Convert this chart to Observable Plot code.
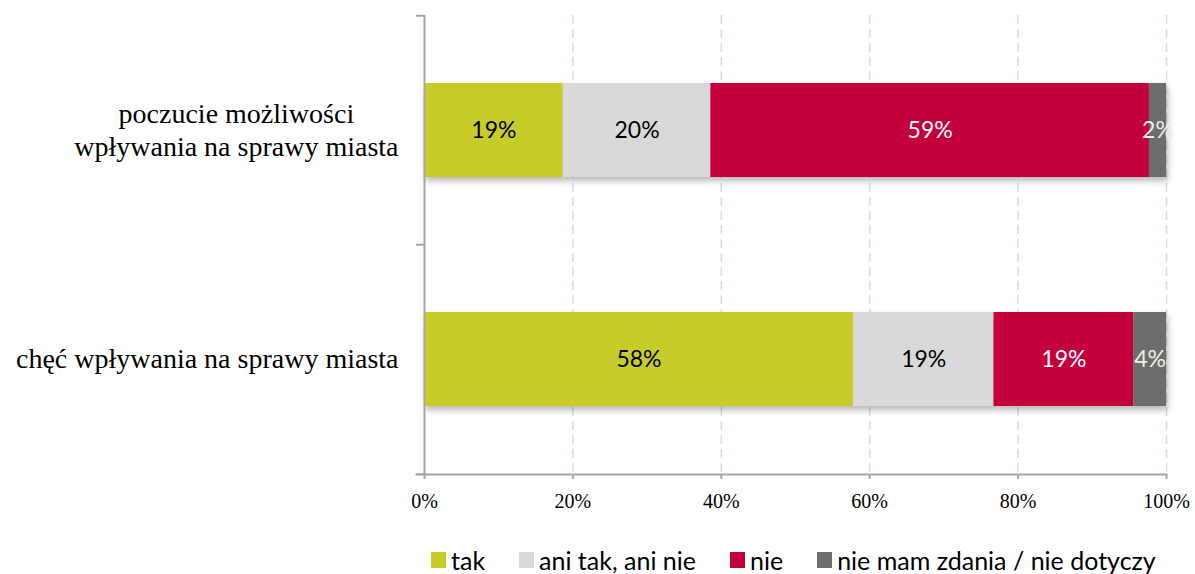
<!DOCTYPE html>
<html>
<head>
<meta charset="utf-8">
<script src="https://cdn.jsdelivr.net/npm/d3@7"></script>
<script src="https://cdn.jsdelivr.net/npm/@observablehq/plot@0.6"></script>
<style>
  body { margin: 0; background: #fff; overflow: hidden; }
  #chart svg { display: block; }
  #legend { display: flex; align-items: center; margin-left: 431px; margin-top: 15px; height: 30px; line-height: 30px;
    font-family: Lato, "Open Sans", sans-serif; font-size: 25px; color: #000; }
  .item { display: flex; align-items: center; margin-right: 34px; }
  .sw { width: 15px; height: 16px; margin-right: 5px; }
</style>
</head>
<body>
<div id="chart"></div>
<div id="legend"></div>
<script>
const categories = ["poczucie możliwości\nwpływania na sprawy miasta", "chęć wpływania na sprawy miasta"];
const series = ["tak", "ani tak, ani nie", "nie", "nie mam zdania / nie dotyczy"];
const seriesColors = ["#c8cc28", "#d9d9d9", "#c4003c", "#6d6d6d"];
const labelColors = ["#000000", "#000000", "#ffffff", "#f0efe4"];
const valuesRow1 = [18.7, 19.9, 59.1, 2.3];
const valuesRow2 = [57.7, 18.9, 18.8, 4.4];
const xTicks = [0, 0.2, 0.4, 0.6, 0.8, 1];

const rows = [valuesRow1, valuesRow2];
const data = [];
categories.forEach((c, i) => series.forEach((s, j) => data.push({category: c, series: s, value: rows[i][j], labelColor: labelColors[j]})));

const W = 1195, H = 530, mT = 15, mB = 56, mL = 424, mR = 29;
const step = (H - mT - mB) / categories.length;
const serif = "'Liberation Serif', serif";
const sans = "Lato, 'Open Sans', sans-serif";
const axisGray = "#a6a6a6";

const stackOpts = {x: "value", y: "category", z: "series", order: series, offset: "normalize"};
const fmt = d => d3.format(".0f")(d.value) + "%";
const distinctLabelColors = Array.from(new Set(labelColors));

const plot = Plot.plot({
  width: W, height: H,
  marginTop: mT, marginBottom: mB, marginLeft: mL, marginRight: mR,
  x: {domain: [0, 1], axis: null},
  y: {domain: categories, paddingInner: 0.59, paddingOuter: 0.295, axis: null},
  color: {domain: series, range: seriesColors},
  marks: [
    Plot.gridX(xTicks.slice(1), {stroke: "#c9e1ea", strokeOpacity: 1, strokeWidth: 1.5, strokeDasharray: "9,5"}),
    Plot.barX(data, Plot.stackX({...stackOpts, fill: "series"})),
    ...distinctLabelColors.map(col => Plot.text(data,
      Plot.stackX({...stackOpts, text: d => d.labelColor === col ? fmt(d) : null, fill: col,
        fontFamily: sans, fontSize: 23}))),
    Plot.ruleX([0], {stroke: axisGray, strokeWidth: 2}),
    Plot.frame({anchor: "bottom", stroke: axisGray, strokeWidth: 2, insetLeft: -8}),
    Plot.axisX(xTicks, {label: null, tickSize: 5, tickPadding: 14, stroke: axisGray, strokeWidth: 2, tickFormat: d3.format(".0%"),
      fontFamily: serif, fontSize: 20, fill: "#000"}),
    Plot.axisY(categories, {label: null, tickSize: 8, stroke: axisGray, strokeWidth: 2, tickFormat: () => "", dy: -step / 2}),
    Plot.axisY(categories.slice(-1), {label: null, tickSize: 8, stroke: axisGray, strokeWidth: 2, tickFormat: () => "", dy: step / 2}),
    Plot.axisY(categories, {label: null, tickSize: 0, tickPadding: 26, fontFamily: serif, fontSize: 28, lineHeight: 1.18, fill: "#000", dy: -2})
  ]
});
document.getElementById("chart").appendChild(plot);

// drop shadow on bars
plot.querySelectorAll('g[aria-label="bar"]').forEach(g => g.style.filter = "drop-shadow(2px 4px 3px rgba(0,0,0,0.28))");

// center the lines of multi-line category labels within their right-aligned block
plot.querySelectorAll("text").forEach(t => {
  const spans = t.querySelectorAll("tspan");
  if (spans.length < 2) return;
  const w = Math.max(...Array.from(spans, s => s.getComputedTextLength()));
  t.setAttribute("text-anchor", "middle");
  t.style.textAnchor = "middle";
  spans.forEach(s => s.setAttribute("x", -w / 2 + (+(s.getAttribute("x")) || 0)));
});

const legend = document.getElementById("legend");
series.forEach((s, j) => {
  const it = document.createElement("div"); it.className = "item";
  const sw = document.createElement("div"); sw.className = "sw"; sw.style.background = seriesColors[j];
  const tx = document.createElement("span"); tx.textContent = s;
  it.appendChild(sw); it.appendChild(tx); legend.appendChild(it);
});
</script>
</body>
</html>
